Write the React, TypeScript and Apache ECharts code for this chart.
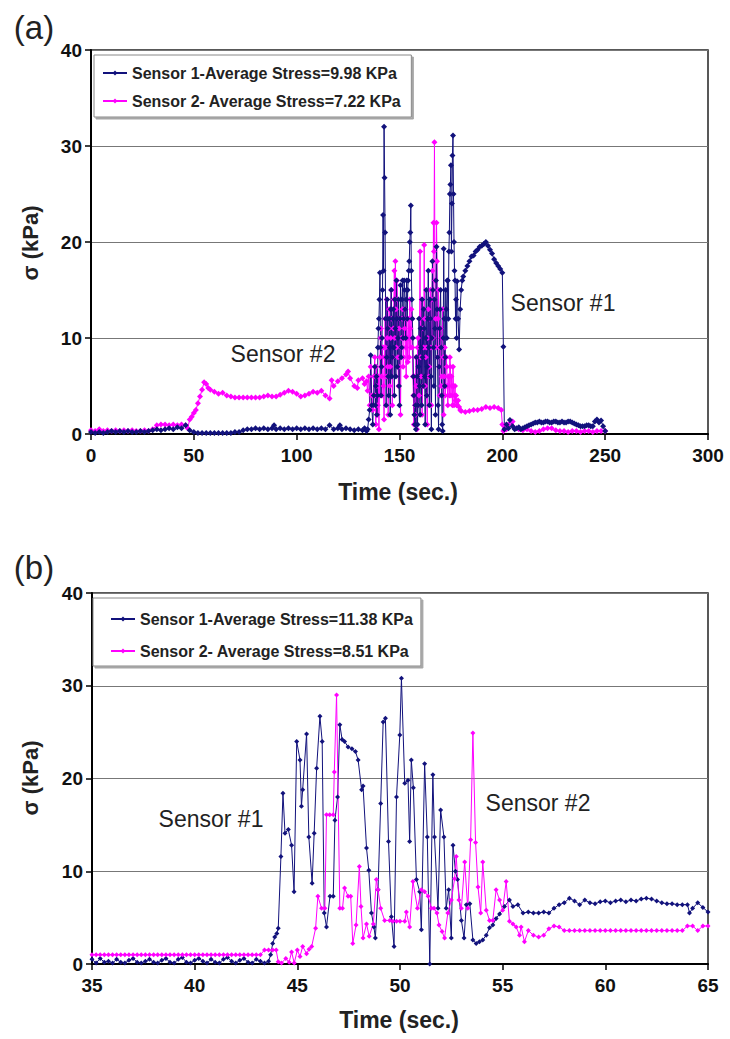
import React, { useEffect, useRef } from 'react';
import * as echarts from 'echarts';

const FONT = "'Liberation Sans', Arial, Helvetica, sans-serif";
const NAVY = '#12127c';
const MAGENTA = '#ff00ff';

// ---------- Panel (a) ----------
const aName1 = 'Sensor 1-Average Stress=9.98 KPa';
const aName2 = 'Sensor 2- Average Stress=7.22 KPa';

const aSensor1: [number, number][] = [
  [0,0.2],[2,0.1],[4,0.2],[6,0.1],[8,0.2],[10,0.3],[12,0.2],[14,0.3],[16,0.2],[18,0.3],[20,0.2],[22,0.2],[24,0.3],[26,0.2],[28,0.3],
  [30,0.4],[32,0.5],[34,0.4],[36,0.5],[38,0.6],[40,0.5],[42,0.7],[44,0.6],[46,0.9],[48,0.4],[50,0.2],[52,0.1],[54,0.1],[56,0.1],
  [58,0.1],[60,0.1],[62,0.1],[64,0.1],[66,0.1],[68,0.1],[70,0.2],[72,0.2],[74,0.4],[76,0.5],[78,0.5],[80,0.6],[82,0.5],[84,0.6],
  [86,0.5],[88,0.6],[89,0.9],[90,0.5],[92,0.6],[94,0.5],[96,0.6],[98,0.5],[100,0.6],[102,0.5],[104,0.6],[106,0.5],[108,0.6],
  [110,0.5],[112,0.6],[114,0.5],[116,0.9],[118,0.5],[120,0.6],[121,0.9],[122,0.5],[124,0.6],[126,0.5],[128,0.4],[130,0.5],
  [132,0.4],[133,0.6],
  [134,0.3],[134.5,0.5],[135,1.5],[135.5,2.5],[136,8.2],[136.5,3],[137,1],[137.5,4],[138,7],[138.5,5],[139,2],[139.5,9],
  [140,12],[140.5,16.8],[141,4],[141.5,10],[142,22.8],[142.5,32],[143,21],[143.5,3],[144,14],[144.5,6],[145,12],[145.5,2],
  [146,15],[146.5,8],[147,13],[147.5,4],[148,11],[148.5,16],[149,7],[149.5,14],[150,3],[150.5,15.5],[151,9],[151.5,16],
  [152,12],[152.5,15],[153,10],[153.5,16],[154,15],[154.5,17],[155,20],[155.5,23.8],[156,14],[156.5,10],[157,4],[157.5,1],
  [158,0.5],[158.5,6],[159,3],[159.5,12],[160,2],[160.5,9],[161,14],[161.5,5],[162,11],[162.5,1],[163,15],[163.5,7],
  [164,17],[164.5,3],[165,12],[165.5,0.5],[166,18],[166.5,9],[167,14],[167.5,2],[168,19.5],[168.5,8],[169,0.5],[169.5,11],
  [170,15],[170.5,4],[171,0.3],[171.5,19.3],[172,5],[172.5,15],[173,10],[173.5,16],[174,19],[174.5,25],[175,28],[175.5,24],
  [176,31.1],[176.5,20],[177,16],[177.5,14],[178,15.9],[178.5,12],[179,8.8],[179.5,13],[180,15],[180.5,16],[181,16.4],
  [182,17],[183,17.5],[184,18],[185,18.5],[186,18.6],[187,19],[188,19.2],[189,19.5],[190,19.6],[191,19.8],[192,20],
  [193,19.6],[194,19.2],[195,18.8],[196,18.2],[197,17.8],[198,17.5],[199,17.2],[200,16.8],[200.5,9.1],[201,0.5],
  [202,1.0],[203,0.6],[203.7,1.45],[205,0.8],[206,0.5],[207,0.6],[208,0.7],[209,0.5],[210,0.6],[211,0.7],[212,0.8],[213,0.9],
  [214,1.0],[215,1.1],[216,1.2],[217,1.2],[218,1.3],[219,1.2],[220,1.2],[221,1.3],[222,1.3],[223,1.2],[224,1.2],[225,1.3],
  [226,1.3],[227,1.2],[228,1.2],[229,1.3],[230,1.2],[231,1.2],[232,1.3],[233,1.3],[234,1.2],[235,1.1],[236,1.0],[237,0.9],
  [238,0.8],[239,0.8],[240,0.8],[241,0.9],[242,0.9],[243,0.8],[244,0.8],[245,1.3],[246,1.5],[247,1.2],[248,1.4],[249,0.8],[250,0.3],
];

// extra readings inside the dense burst (quarter-second offsets)
const aSensor1Burst: [number, number][] = [
  [138.25,3],[138.75,6],[139.25,4],[139.75,11],[140.25,14],[140.75,9],[141.25,7],[141.75,15],[142.25,17],[142.75,26.7],
  [143.25,12],[143.75,8],[144.25,11],[144.75,4],[145.25,9],[145.75,13],[146.25,6],[146.75,12],[147.25,9],[147.75,14],
  [148.25,6],[148.75,12],[149.25,10],[149.75,5],[150.25,12],[150.75,8],[151.25,14],[151.75,10],[152.25,16],[152.75,13],
  [153.25,14],[153.75,12],[154.25,16],[154.75,18],[155.25,21],[155.75,17],[156.25,12],[156.75,6],[157.25,2],[157.75,3],
  [158.25,8],[158.75,1],[159.25,7],[159.75,5],[160.25,11],[160.75,3],[161.25,8],[161.75,13],[162.25,6],[162.75,10],
  [163.25,4],[163.75,12],[164.25,9],[164.75,14],[165.25,6],[165.75,10],[166.25,15],[166.75,5],[167.25,11],[167.75,16],
  [168.25,13],[168.75,3],[169.25,7],[169.75,13],[170.25,9],[170.75,1],[171.25,10],[171.75,12],[172.25,8],[172.75,13],
  [173.25,16],[173.75,12],[174.25,21],[174.75,26],[175.25,19],[175.75,29],[176.25,25],[176.75,17],[177.25,12],[177.75,10],
];

const aSensor2: [number, number][] = [
  [0,0.4],[2,0.3],[4,0.5],[6,0.3],[8,0.4],[10,0.3],[12,0.4],[14,0.3],[16,0.4],[18,0.3],[20,0.4],[22,0.3],[24,0.3],[26,0.4],
  [28,0.3],[30,0.5],[32,0.9],[34,1.0],[36,1.0],[38,0.9],[40,1.0],[42,0.9],[44,1.0],[46,0.9],[47,0.6],[48,1.5],[49,1.8],
  [50,2.2],[51,2.5],[52,3.2],[53,3.9],[54,4.6],[55,5.4],[56,5.2],[57,4.8],[58,4.6],[60,4.4],[62,4.2],[64,4.3],[66,4.0],
  [68,3.9],[70,3.8],[72,3.8],[74,3.8],[76,3.8],[78,3.8],[80,3.8],[82,3.8],[84,3.9],[86,4.0],[88,3.9],[90,3.9],[92,4.1],
  [94,4.3],[96,4.5],[98,4.4],[100,4.2],[102,3.9],[104,4.0],[106,4.2],[108,4.4],[110,4.3],[112,4.5],[114,4.0],[116,3.7],
  [117,5.6],[118,5.0],[120,5.5],[122,5.8],[124,6.2],[125,6.5],[126,5.8],[128,5.0],[129.5,4.8],[130,5.6],[132,5.8],[133,5.2],
  [134,5.5],[134.5,4.5],[135,6],[135.5,3],[136,7],[136.5,4],[137,2.5],[137.5,6],[138,8],[138.5,1],[139,5],[139.5,3],
  [140,0.5],[140.5,8],[141,11],[141.5,4],[142,9],[142.5,1.5],[143,12],[143.5,6],[144,10],[144.5,2],[145,13],[145.5,7],
  [146,15],[146.5,3],[147,11],[147.5,17],[148,18],[148.5,9],[149,14],[149.5,5],[150,12],[150.5,2],[151,10],[151.5,13],
  [152,8],[152.5,11],[153,9],[153.5,12],[154,7.5],[154.5,10],[155,14],[155.5,9],[156,12],[156.5,6],[157,1],[157.5,3],
  [158,8],[158.5,0.5],[159,10],[159.5,4],[160,19],[160.5,6],[161,2],[161.5,11],[162,19.7],[162.5,5],[163,9],[163.5,1],
  [164,13],[164.5,7],[165,15],[165.5,3],[166,17],[166.5,22],[167,30.4],[167.5,12],[168,22],[168.5,8],[169,15],[169.5,4],
  [170,11],[170.5,6],[171,13],[171.5,2],[172,9],[172.5,5],[173,7],[173.5,3],[174,6],[174.5,8],[175,4],[175.5,5],
  [176,7],[176.5,3],[177,5],[177.5,4],[178,3],[178.5,3.5],[179,2.8],[179.5,2.5],[180,2.4],[182,2.3],[184,2.4],[186,2.5],
  [188,2.5],[190,2.6],[192,2.8],[194,2.7],[196,2.8],[198,2.7],[199.5,2.5],[200,1.0],[200.5,0.3],[201,0.8],[202,0.5],
  [203,1.0],[205,1.3],[206,0.6],[208,0.5],[210,0.4],[212,0.5],[214,0.3],[216,0.2],[218,0.3],[220,0.5],[222,0.6],[224,0.6],
  [226,0.4],[228,0.3],[230,0.3],[232,0.2],[234,0.3],[236,0.3],[238,0.2],[240,0.3],[242,0.3],[244,0.2],[246,0.3],[248,0.3],[250,0.3],
];

const aSensor2Burst: [number, number][] = [
  [138.25,4],[138.75,7],[139.25,2],[139.75,6],[140.25,4],[140.75,10],[141.25,6],[141.75,9],[142.25,5],[142.75,8],
  [143.25,9],[143.75,14],[144.25,7],[144.75,11],[145.25,5],[145.75,10],[146.25,12],[146.75,8],[147.25,14],[147.75,10],
  [148.25,13],[148.75,16],[149.25,8],[149.75,11],[150.25,7],[150.75,9],[151.25,12],[151.75,7],[152.25,10],[152.75,13],
  [153.25,6],[153.75,10],[154.25,12],[154.75,8],[155.25,11],[155.75,13],[156.25,9],[156.75,4],[157.25,6],[157.75,2],
  [158.25,5],[158.75,9],[159.25,3],[159.75,12],[160.25,8],[160.75,14],[161.25,5],[161.75,9],[162.25,12],[162.75,8],
  [163.25,4],[163.75,10],[164.25,6],[164.75,12],[165.25,9],[165.75,14],[166.25,10],[166.75,19],[167.25,16],[167.75,9],
  [168.25,18],[168.75,12],[169.25,7],[169.75,9],[170.25,5],[170.75,10],[171.25,8],[171.75,6],[172.25,4],[172.75,8],
  [173.25,5],[173.75,6],[174.25,4],[174.75,7],[175.25,6],[175.75,3],[176.25,5],[176.75,4],[177.25,3.5],[177.75,3],
];

// ---------- Panel (b) ----------
const bName1 = 'Sensor 1-Average Stress=11.38 KPa';
const bName2 = 'Sensor 2- Average Stress=8.51 KPa';

const bSensor1: [number, number][] = [
  [35.0,0.5],[35.2,0.1],[35.4,0.6],[35.6,0.2],[35.8,0.3],[36.0,0.1],[36.2,0.5],[36.4,0.2],[36.6,0.1],[36.8,0.4],[37.0,0.6],
  [37.2,0.2],[37.4,0.1],[37.6,0.3],[37.8,0.5],[38.0,0.2],[38.2,0.1],[38.4,0.4],[38.6,0.6],[38.8,0.2],[39.0,0.1],[39.2,0.5],
  [39.4,0.7],[39.6,0.2],[39.8,0.1],[40.0,0.4],[40.2,0.6],[40.4,0.3],[40.6,0.1],[40.8,0.5],[41.0,0.2],[41.2,0.1],[41.4,0.5],
  [41.6,0.7],[41.8,0.3],[42.0,0.1],[42.2,0.4],[42.4,0.6],[42.6,0.2],[42.8,0.1],[43.0,0.5],[43.2,0.3],[43.4,0.1],
  [43.6,0.3],[43.7,1.0],[43.8,2.2],[43.9,2.9],[44.0,3.3],[44.07,3.85],[44.2,11.6],[44.3,18.4],[44.4,14.1],[44.56,14.5],
  [44.72,12.8],[44.84,7.8],[44.97,24.0],[45.13,22],[45.2,17],[45.26,18.8],[45.45,24.8],[45.56,13.7],[45.72,8.7],[45.82,14.1],
  [45.94,21.1],[46.1,26.7],[46.21,24],[46.31,5.5],[46.42,4.0],[46.59,7.3],[46.75,7.3],[46.83,15.5],[46.96,18],[47.07,25.8],
  [47.18,24.2],[47.3,24],[47.47,23.4],[47.66,23.2],[47.83,22.9],[47.96,22],[48.13,18.8],[48.2,19.2],[48.37,12.5],[48.48,10.1],
  [48.61,5.5],[48.73,4],[48.8,2.8],[48.93,8],[49.06,17.3],[49.18,26.1],[49.29,26.5],[49.44,13.2],[49.58,5.1],[49.71,1.9],
  [49.83,18],[49.99,24.7],[50.07,30.8],[50.23,19.5],[50.39,19.8],[50.47,13.2],[50.55,22],[50.65,19],[50.8,9.1],[50.96,7.8],
  [51.04,3.7],[51.2,21.6],[51.33,13.7],[51.45,0],[51.6,20.4],[51.68,13.7],[51.85,6],[51.98,16.6],[52.14,13.7],[52.25,6],
  [52.37,8],[52.5,2.8],[52.58,12.8],[52.7,10],[52.8,9.1],[52.99,4.7],[53.12,2.8],[53.23,6.4],[53.4,6.5],[53.55,2.6],
  [53.71,2.2],[53.87,2.4],[54.03,2.6],[54.2,3.1],[54.36,3.9],[54.52,4.2],[54.68,4.9],[54.85,5.4],[55.09,6.2],[55.33,6.9],
  [55.5,6.2],[55.74,6.4],[55.99,5.5],[56.25,5.6],[56.5,5.5],[56.75,5.5],[57.0,5.6],[57.25,5.5],[57.5,6.0],[57.75,6.4],
  [58.0,6.6],[58.25,7.1],[58.5,6.8],[58.75,6.4],[59.0,6.9],[59.25,6.6],[59.5,6.5],[59.75,6.7],[60.0,6.8],[60.25,6.6],
  [60.5,6.8],[60.75,6.9],[61.0,6.7],[61.25,6.9],[61.5,6.8],[61.75,7.0],[62.0,7.1],[62.25,7.0],[62.5,6.8],[62.75,6.6],
  [63.0,6.5],[63.25,6.5],[63.5,6.4],[63.75,6.4],[64.0,6.4],[64.1,5.5],[64.25,6.0],[64.5,6.6],[64.75,6.1],[65.0,5.6],
];

const bSensor2: [number, number][] = [
  [35.0,1.0],[35.2,1.0],[35.4,1.0],[35.6,1.0],[35.8,1.0],[36.0,1.0],[36.2,1.0],[36.4,1.0],[36.6,1.0],[36.8,1.0],[37.0,1.0],
  [37.2,1.0],[37.4,1.0],[37.6,1.0],[37.8,1.0],[38.0,1.0],[38.2,1.0],[38.4,1.0],[38.6,1.0],[38.8,1.0],[39.0,1.0],[39.2,1.0],
  [39.4,1.0],[39.6,1.0],[39.8,1.0],[40.0,1.0],[40.2,1.0],[40.4,1.0],[40.6,1.0],[40.8,1.0],[41.0,1.0],[41.2,1.0],[41.4,1.0],
  [41.6,1.0],[41.8,1.0],[42.0,1.0],[42.2,1.0],[42.4,1.0],[42.6,1.0],[42.8,1.0],[43.0,1.0],[43.2,1.0],[43.4,1.5],[43.6,1.5],
  [43.8,1.5],[43.97,1.5],[44.07,0.25],[44.23,0.1],[44.44,0.6],[44.6,0.2],[44.72,1.3],[44.85,0.1],[45.0,1.5],[45.13,0.8],
  [45.26,1.9],[45.45,1.1],[45.57,1.6],[45.7,1.9],[45.89,3.85],[46.0,7.3],[46.18,6],[46.34,6],[46.42,16.1],[46.58,16.1],
  [46.75,16.1],[46.8,20.7],[46.91,29],[47.07,6],[47.2,6],[47.3,8.2],[47.47,7.3],[47.6,7.3],[47.7,2.2],[47.86,4.2],
  [48.02,10.5],[48.1,6.2],[48.2,2.8],[48.37,4.3],[48.5,3.0],[48.7,4.3],[48.85,9.1],[48.93,8],[49.06,6],[49.25,4.7],
  [49.5,4.7],[49.65,4.6],[49.83,4.6],[50.0,4.6],[50.23,4.6],[50.31,5.6],[50.47,4.0],[50.63,8.9],[50.85,6],[51.04,8],
  [51.2,7.8],[51.37,7.3],[51.53,6],[51.66,6],[51.8,5.5],[51.9,4.2],[52.05,3.5],[52.17,2.8],[52.33,5.5],[52.5,6.9],
  [52.66,9.2],[52.74,11.6],[52.87,6.9],[52.99,6],[53.15,11],[53.3,6],[53.44,13.4],[53.55,24.9],[53.68,13.1],[53.8,8.3],
  [53.93,5.5],[54.03,11],[54.2,5.8],[54.36,4.7],[54.52,4.7],[54.68,8],[54.85,6.9],[55.0,5.8],[55.17,8.9],[55.33,4.6],
  [55.5,4.3],[55.66,4.0],[55.82,3.1],[55.9,4.0],[56.06,2.4],[56.25,3.6],[56.5,3.1],[56.75,2.9],[57.0,3.1],[57.25,3.8],
  [57.5,4.1],[57.75,4.0],[58.0,3.6],[58.25,3.6],[58.5,3.6],[58.75,3.6],[59.0,3.6],[59.25,3.6],[59.5,3.6],[59.75,3.6],
  [60.0,3.6],[60.25,3.6],[60.5,3.6],[60.75,3.6],[61.0,3.6],[61.25,3.6],[61.5,3.6],[61.75,3.6],[62.0,3.6],[62.25,3.6],
  [62.5,3.6],[62.75,3.6],[63.0,3.6],[63.25,3.6],[63.5,3.6],[63.75,3.6],[64.0,4.1],[64.25,4.1],[64.5,3.6],[64.75,4.1],[65.0,4.1],
];

const yMin = 0;
const yMax = 40;
const yStep = 10;

function merge(a: [number, number][], b: [number, number][]) {
  return [...a, ...b].sort((p, q) => p[0] - q[0]);
}

function makeX(gridIndex: number, min: number, max: number, interval: number) {
  return {
    type: 'value', gridIndex, min, max, interval,
    axisLine: { show: true, onZero: false, lineStyle: { color: '#000', width: 2 } },
    axisTick: { show: true, length: 6, lineStyle: { color: '#000', width: 1.5 } },
    axisLabel: { fontSize: 19, fontWeight: 'bold', color: '#111', margin: 12, fontFamily: FONT },
    splitLine: { show: false },
  };
}
function makeY(gridIndex: number) {
  return {
    type: 'value', gridIndex, min: yMin, max: yMax, interval: yStep,
    axisLine: { show: true, onZero: false, lineStyle: { color: '#000', width: 2 } },
    axisTick: { show: true, length: 6, lineStyle: { color: '#000', width: 1.5 } },
    axisLabel: { fontSize: 19, fontWeight: 'bold', color: '#111', margin: 9, fontFamily: FONT },
    splitLine: { show: true, lineStyle: { color: '#777', width: 1 } },
  };
}
function makeSeries(name: string, data: [number, number][], color: string, idx: number, size: number) {
  return {
    type: 'line', name, data, xAxisIndex: idx, yAxisIndex: idx,
    symbol: 'diamond', symbolSize: size, showSymbol: true, showAllSymbol: true,
    lineStyle: { color, width: 1 }, itemStyle: { color },
    emphasis: { disabled: true }, clip: true,
  };
}
function makeLegend(names: string[], left: number, top: number, gap: number, padding: number[]) {
  return {
    data: names, orient: 'vertical', left, top, itemGap: gap,
    itemWidth: 24, itemHeight: 6, padding,
    borderColor: '#888', borderWidth: 1, backgroundColor: '#fff',
    shadowColor: 'rgba(0,0,0,0.35)', shadowOffsetX: 2, shadowOffsetY: 2, shadowBlur: 0,
    textStyle: { fontSize: 16, fontWeight: 'bold', color: '#222', fontFamily: FONT },
    selectedMode: false,
  };
}
function txt(text: string, x: number, y: number, size: number, weight: string, rot = 0) {
  return {
    type: 'text', x, y, rotation: rot,
    style: { text, x: 0, y: 0, fill: '#222', font: `${weight} ${size}px ${FONT}`, textAlign: 'center', textVerticalAlign: 'middle' },
    silent: true, z: 100,
  };
}

export default function App() {
  const ref = useRef<HTMLDivElement>(null);
  useEffect(() => {
    const chart = echarts.init(ref.current!, null, { renderer: 'svg' });
    chart.setOption({
      animation: false,
      backgroundColor: '#fff',
      grid: [
        { left: 91, top: 50, width: 617, height: 384, show: true, borderColor: '#222', borderWidth: 1.5 },
        { left: 92, top: 593, width: 616, height: 371, show: true, borderColor: '#222', borderWidth: 1.5 },
      ],
      xAxis: [makeX(0, 0, 300, 50), makeX(1, 35, 65, 5)],
      yAxis: [makeY(0), makeY(1)],
      legend: [
        makeLegend([aName1, aName2], 94, 55, 12, [10, 10, 8, 8]),
        makeLegend([bName1, bName2], 93, 598, 16, [13, 8, 7, 17]),
      ],
      series: [
        // in panel (a) sensor 2 sits underneath sensor 1
        makeSeries(aName2, merge(aSensor2, aSensor2Burst), MAGENTA, 0, 6),
        makeSeries(aName1, merge(aSensor1, aSensor1Burst), NAVY, 0, 6),
        makeSeries(bName1, bSensor1, NAVY, 1, 5),
        makeSeries(bName2, bSensor2, MAGENTA, 1, 5),
      ],
      graphic: [
        txt('(a)', 34, 27, 33, 'normal'),
        txt('(b)', 34, 567, 33, 'normal'),
        txt('σ (kPa)', 30, 243, 22, 'bold', Math.PI / 2),
        txt('σ (kPa)', 30, 778, 22, 'bold', Math.PI / 2),
        txt('Time (sec.)', 398, 492, 23, 'bold'),
        txt('Time (sec.)', 399, 1020, 23, 'bold'),
        txt('Sensor #2', 283, 354, 23, 'normal'),
        txt('Sensor #1', 563, 303, 23, 'normal'),
        txt('Sensor #1', 211, 819, 23, 'normal'),
        txt('Sensor #2', 538, 803, 23, 'normal'),
      ],
    });
    return () => chart.dispose();
  }, []);
  return <div ref={ref} style={{ position: 'absolute', left: 0, top: 0, width: 730, height: 1039, background: '#fff' }} />;
}
